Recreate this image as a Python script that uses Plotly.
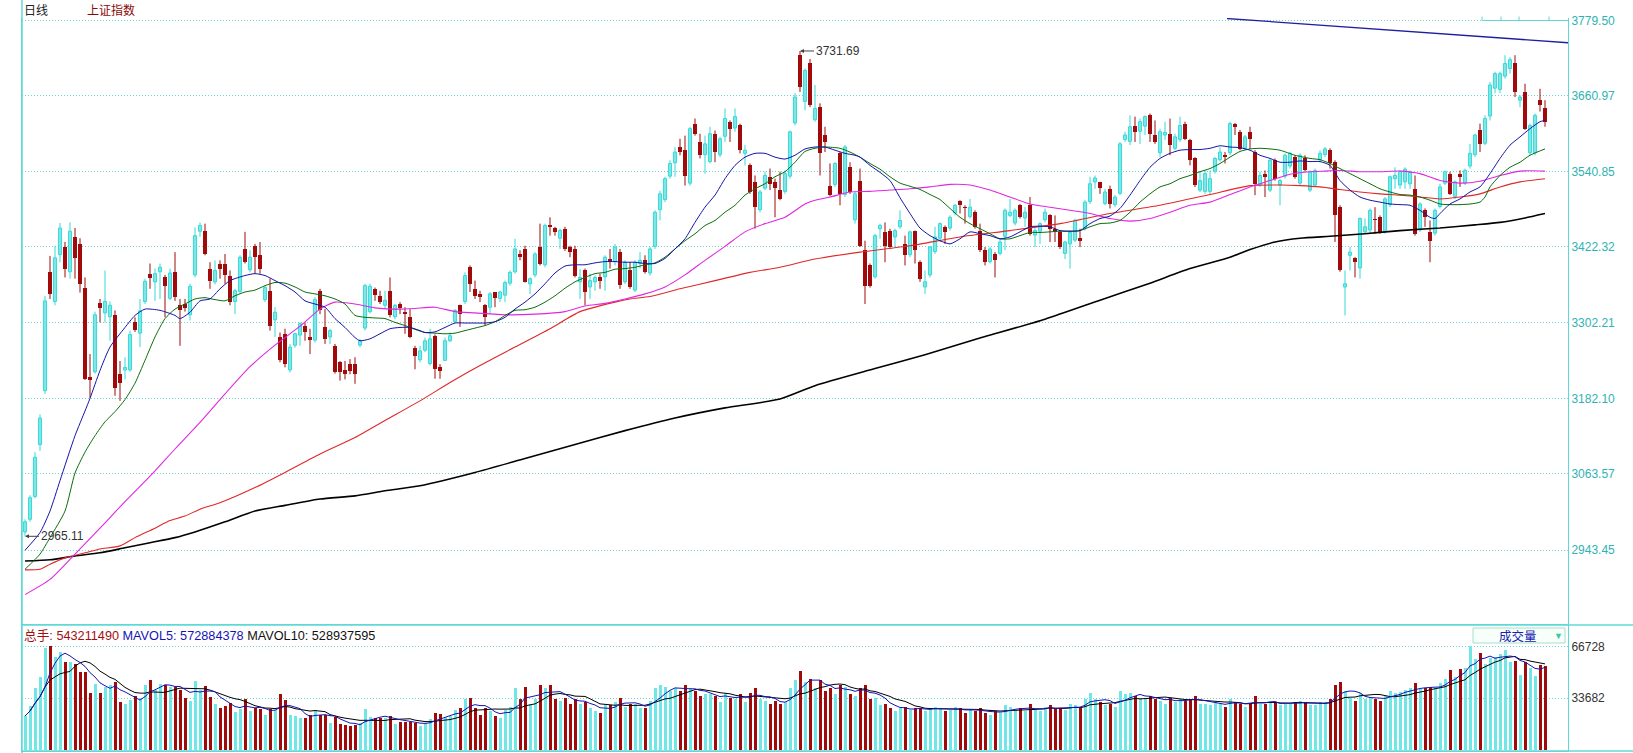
import plotly.graph_objects as go
import pandas as pd

# ---------------- data ----------------
opens = [
2972,2992,3028,3110,3195,3382,3336,3410,3422,3383,
3438,3427,3358,3216,3225,3333,3318,3312,3314,3222,
3228,3228,3303,3286,3336,3380,3367,3383,3374,3341,
3382,3330,3332,3315,3378,3447,3448,3388,3367,3396,
3396,3377,3336,3352,3419,3386,3424,3409,3339,3353,
3307,3280,3285,3228,3267,3283,3298,3280,3275,3353,
3295,3280,3266,3240,3228,3237,3237,3267,3294,3320,
3356,3345,3330,3353,3312,3332,3320,3311,3262,3244,
3259,3238,3282,3233,3243,3274,3304,3330,3336,3390,
3356,3348,3330,3327,3351,3341,3346,3365,3383,3411,
3419,3364,3378,3422,3394,3457,3452,3436,3451,3422,
3419,3367,3385,3359,3367,3374,3375,3403,3399,3414,
3367,3385,3354,3396,3401,3381,3423,3481,3497,3534,
3555,3580,3575,3523,3617,3588,3568,3557,3601,3568,
3597,3620,3610,3615,3570,3551,3525,3481,3515,3533,
3525,3512,3510,3534,3618,3725,3652,3712,3623,3643,
3599,3519,3521,3570,3505,3548,3465,3527,3417,3393,
3375,3451,3446,3448,3438,3454,3427,3410,3448,3398,
3359,3378,3415,3436,3454,3452,3476,3494,3486,3470,
3477,3448,3417,3399,3411,3412,3439,3472,3460,3488,
3468,3488,3441,3447,3465,3472,3451,3446,3412,3427,
3433,3436,3452,3494,3525,3524,3491,3514,3489,3507,
3592,3589,3614,3605,3613,3630,3599,3571,3599,3601,
3578,3592,3617,3591,3562,3512,3510,3510,3542,3560,
3567,3571,3616,3604,3578,3603,3572,3520,3538,3512,
3559,3520,3534,3550,3564,3523,3562,3512,3520,3560,
3568,3575,3556,3485,3359,3409,3404,3389,3446,3449,
3467,3469,3447,3489,3530,3520,3525,3522,3514,3449,
3480,3446,3444,3486,3523,3538,3502,3538,3523,3550,
3568,3607,3586,3629,3673,3671,3692,3704,3712,3654,
3667,3571,3571,3654,3641]

highs = [
2992,3030,3098,3158,3345,3408,3424,3460,3430,3461,
3452,3436,3374,3253,3320,3340,3385,3336,3322,3242,
3248,3290,3311,3340,3372,3396,3388,3396,3378,3388,
3414,3340,3340,3364,3453,3461,3459,3398,3401,3401,
3411,3385,3356,3409,3446,3417,3427,3430,3361,3372,
3327,3287,3293,3269,3287,3303,3303,3293,3343,3356,
3324,3293,3269,3242,3242,3245,3248,3277,3364,3364,
3358,3353,3353,3374,3332,3335,3327,3324,3266,3266,
3279,3293,3284,3237,3279,3287,3324,3331,3382,3393,
3369,3353,3332,3351,3351,3353,3369,3385,3435,3417,
3424,3374,3414,3459,3459,3469,3454,3451,3454,3424,
3424,3387,3388,3380,3377,3380,3409,3419,3427,3419,
3401,3398,3401,3414,3409,3422,3480,3511,3533,3559,
3580,3593,3598,3612,3625,3601,3598,3612,3606,3596,
3641,3622,3641,3617,3583,3554,3535,3512,3541,3546,
3530,3541,3543,3606,3665,3731.69,3704,3719,3678,3649,
3612,3554,3556,3572,3583,3556,3509,3546,3432,3396,
3443,3459,3461,3451,3451,3480,3440,3448,3448,3401,
3385,3424,3454,3461,3456,3472,3490,3496,3488,3498,
3480,3459,3422,3422,3414,3435,3483,3498,3483,3490,
3485,3501,3454,3461,3483,3474,3472,3448,3432,3448,
3467,3451,3496,3533,3535,3525,3514,3519,3504,3588,
3604,3630,3628,3625,3630,3633,3622,3609,3620,3625,
3601,3628,3620,3593,3564,3541,3543,3543,3564,3580,
3572,3620,3618,3607,3599,3612,3575,3541,3543,3562,
3562,3530,3570,3572,3567,3570,3567,3543,3546,3575,
3580,3578,3559,3488,3385,3422,3406,3469,3467,3483,
3485,3472,3501,3535,3548,3543,3548,3543,3535,3493,
3483,3464,3483,3522,3543,3541,3527,3543,3546,3585,
3601,3617,3630,3683,3699,3699,3725,3722,3725,3662,
3680,3617,3633,3672,3654]

lows = [
2965.11,2988,3025,3100,3190,3340,3330,3398,3374,3372,
3372,3350,3212,3184,3222,3303,3303,3274,3187,3179,
3213,3225,3288,3264,3332,3356,3337,3340,3311,3338,
3337,3266,3320,3306,3374,3438,3409,3356,3363,3372,
3364,3330,3316,3348,3396,3382,3380,3380,3335,3290,
3280,3240,3232,3224,3263,3266,3274,3253,3271,3316,
3269,3269,3222,3211,3213,3221,3206,3264,3290,3317,
3337,3332,3324,3311,3308,3316,3285,3278,3229,3240,
3256,3235,3214,3214,3242,3272,3303,3296,3332,3351,
3340,3335,3298,3316,3327,3335,3335,3361,3380,3401,
3366,3348,3374,3393,3390,3440,3440,3419,3416,3406,
3374,3340,3330,3340,3353,3356,3353,3388,3393,3356,
3364,3356,3351,3388,3380,3377,3419,3464,3493,3530,
3533,3567,3519,3519,3598,3562,3538,3554,3556,3564,
3588,3588,3604,3570,3551,3506,3451,3477,3512,3512,
3469,3496,3506,3530,3614,3667,3638,3643,3620,3535,
3572,3502,3517,3488,3501,3506,3459,3422,3332,3358,
3372,3435,3398,3419,3422,3451,3393,3406,3396,3367,
3348,3374,3411,3430,3427,3448,3472,3475,3459,3467,
3451,3414,3393,3396,3374,3409,3417,3469,3456,3467,
3454,3440,3422,3427,3461,3430,3430,3419,3403,3388,
3430,3422,3448,3490,3514,3506,3488,3483,3485,3504,
3588,3583,3588,3585,3599,3588,3585,3564,3591,3567,
3575,3588,3591,3551,3517,3509,3506,3506,3538,3557,
3554,3567,3599,3575,3575,3577,3504,3517,3501,3509,
3527,3488,3530,3546,3530,3520,3541,3509,3517,3556,
3564,3546,3430,3383,3314,3385,3374,3372,3443,3443,
3443,3443,3443,3485,3514,3514,3514,3514,3440,3446,
3454,3398,3440,3483,3520,3504,3498,3517,3520,3546,
3564,3572,3583,3622,3665,3665,3688,3696,3659,3643,
3607,3567,3567,3636,3612]

closes = [
2988,3026,3090,3152,3337,3348,3405,3452,3388,3447,
3404,3364,3214,3212,3315,3325,3336,3330,3200,3208,
3232,3284,3291,3321,3368,3373,3380,3390,3360,3381,
3343,3322,3325,3360,3440,3456,3411,3369,3385,3388,
3378,3335,3353,3406,3398,3406,3406,3388,3358,3298,
3319,3243,3238,3264,3285,3301,3288,3275,3339,3322,
3277,3290,3224,3224,3222,3227,3222,3274,3361,3360,
3346,3335,3338,3314,3330,3325,3316,3280,3250,3258,
3274,3277,3229,3227,3274,3282,3322,3317,3377,3364,
3345,3343,3311,3348,3341,3351,3366,3382,3419,3406,
3367,3372,3411,3396,3456,3454,3446,3448,3419,3414,
3377,3374,3351,3369,3374,3369,3406,3398,3422,3362,
3398,3359,3398,3401,3382,3419,3477,3506,3530,3554,
3572,3572,3535,3609,3601,3567,3585,3601,3572,3593,
3625,3609,3628,3575,3575,3509,3485,3509,3535,3522,
3516,3498,3538,3604,3659,3675,3701,3646,3641,3570,
3588,3504,3554,3506,3580,3509,3506,3424,3361,3361,
3440,3456,3424,3422,3448,3464,3409,3446,3417,3372,
3367,3422,3438,3459,3446,3469,3488,3488,3483,3485,
3454,3417,3398,3419,3401,3430,3480,3477,3480,3469,
3477,3443,3448,3459,3477,3451,3446,3422,3430,3445,
3464,3432,3493,3522,3531,3515,3509,3490,3501,3585,
3599,3612,3604,3620,3628,3601,3588,3604,3603,3583,
3596,3614,3593,3559,3520,3527,3538,3530,3562,3572,
3564,3617,3612,3577,3596,3593,3522,3535,3533,3559,
3530,3527,3567,3570,3533,3567,3543,3541,3543,3570,
3577,3554,3472,3385,3364,3414,3398,3467,3454,3480,
3464,3446,3498,3533,3535,3541,3545,3540,3443,3490,
3469,3432,3480,3517,3541,3506,3525,3533,3543,3570,
3599,3585,3625,3678,3696,3696,3712,3718,3667,3659,
3609,3614,3630,3646,3620]

volumes = [
22100,28500,40300,47400,65700,67200,59900,63100,56900,56900,
55600,50400,50400,36900,42700,36900,41000,42100,44000,31100,
29800,32400,35000,33500,42100,45300,38800,42700,42100,41000,
41000,38800,33900,31700,44600,38800,41400,34500,29800,27400,
28700,30300,24700,26400,32800,25300,27400,26600,22700,26400,
26000,36300,32400,22700,22300,20600,20600,22700,26000,22700,
22700,17400,21600,16700,16300,15700,16300,17400,26400,21600,
20600,20600,20600,22300,16700,18400,18000,18000,17400,15800,
17400,20000,24200,23400,21600,
22000,26000,27000,33000,34000,27000,23000,27000,25000,22000,
21000,26000,28000,40000,33000,41000,30000,33000,42000,40000,
42000,33000,32000,34000,30000,33000,30000,31000,27000,25000,
24000,30000,29000,31000,34000,28000,30000,30000,27000,27000,
32000,40000,42000,41000,38000,40000,38000,42000,40000,38000,
35000,36000,36000,35000,31000,37000,34000,33000,36000,31000,
37000,40000,33000,32000,30000,32000,30000,31000,40000,45000,
51000,44000,46000,40000,45000,38000,40000,36000,42000,41000,
36000,35000,40000,42000,33000,34000,29000,30000,27000,25000,
27000,28000,26000,27000,27000,25000,27000,28000,27000,25000,
26000,28000,27000,24000,26000,25000,27000,24000,23000,25000,
24000,29000,28000,26000,27000,25000,30000,26000,25000,28000,
29000,27000,27000,26000,30000,29000,27000,33000,37000,33000,
31000,29000,30000,28000,38000,36000,37000,35000,34000,33000,
35000,33000,32000,30000,34000,31000,33000,32000,33000,35000,
30000,30000,29000,31000,30000,28000,33000,31000,30000,28000,
30000,35000,30000,30000,31000,31000,29000,30000,30000,31000,
32000,31000,29000,29000,31000,31000,33000,42000,44000,38000,
34000,32000,37000,33000,34000,33000,32000,35000,38000,37000,
37800,38800,39900,43100,39500,39900,41000,39900,43500,45700,
51700,47400,52400,53200,67200,58600,62500,55400,59600,60300,
61800,64600,57100,57500,48500,56700,53200,48000,54900,54321]

# moving-average lines, sampled along the candles (index, value)
ma_blue_x = [0,3,5,7,10,12,13,15,17,20,22,24,27,30,31,33,35,37,39,41,44,46,48,50,52,54,56,58,60,62,64,66,67,69,71,73,75,77,79,80,82,84,86,88,90,92,94,96,98,100,102,104,106,108,110,112,114,116,118,120,122,124,126,128,130,132,134,136,138,140,142,144,146,148,150,152,154,156,158,160,162,164,166,167,169,171,173,175,177,179,181,183,185,187,189,191,193,195,197,199,201,203,205,207,209,211,213,215,217,219,221,223,225,227,229,231,233,235,237,239,241,243,245,247,249,251,253,255,257,259,261,263,265,267,269,271,273,275,277,279,281,282,283,285,287,289,291,293,295,297,299,301,303,304]
ma_blue_y = [2943,2971,3005,3053,3124,3163,3183,3227,3264,3295,3314,3324,3322,3314,3309,3319,3337,3340,3356,3369,3377,3380,3377,3369,3361,3351,3337,3332,3327,3309,3295,3279,3274,3277,3285,3293,3295,3295,3290,3287,3288,3295,3302,3302,3302,3302,3304,3311,3324,3335,3348,3364,3381,3392,3394,3394,3397,3399,3399,3398,3398,3396,3396,3404,3419,3435,3461,3485,3504,3530,3551,3564,3570,3570,3564,3561,3567,3577,3580,3580,3575,3570,3567,3564,3551,3540,3527,3500,3475,3452,3440,3432,3427,3435,3446,3443,3440,3435,3438,3446,3454,3455,3454,3448,3447,3448,3459,3467,3471,3483,3504,3527,3548,3562,3570,3575,3576,3576,3578,3582,3580,3579,3575,3567,3562,3556,3556,3558,3557,3557,3551,3527,3512,3501,3496,3493,3490,3489,3488,3480,3469,3467,3475,3490,3498,3509,3517,3538,3562,3583,3596,3609,3620,3622]

ma_green_x = [0,3,5,8,10,12,14,16,18,20,22,24,26,28,30,32,34,36,38,40,42,44,46,48,50,52,54,56,58,60,62,64,66,68,70,72,74,76,78,80,82,84,86,88,90,92,94,96,98,100,102,104,106,108,110,112,114,116,118,120,122,124,126,128,130,132,134,136,138,140,142,144,146,148,150,152,154,156,158,160,163,165,167,169,171,173,175,177,179,181,183,185,187,189,191,193,195,197,199,201,203,205,207,209,211,213,215,217,219,221,223,225,227,229,231,233,235,237,239,241,243,245,247,249,251,254,257,259,261,263,265,267,269,271,273,275,277,279,281,283,285,287,289,291,292,293,295,297,299,301,304]
ma_green_y = [2913,2937,2963,3005,3065,3098,3124,3146,3162,3181,3207,3243,3280,3309,3324,3332,3340,3342,3339,3337,3345,3351,3354,3361,3366,3365,3359,3351,3348,3345,3340,3332,3314,3311,3310,3309,3303,3298,3292,3287,3286,3285,3286,3290,3294,3298,3304,3314,3322,3323,3327,3335,3345,3357,3367,3374,3380,3382,3387,3388,3390,3394,3397,3406,3419,3432,3443,3456,3464,3477,3488,3504,3514,3522,3533,3541,3556,3573,3578,3580,3578,3572,3564,3554,3545,3533,3523,3518,3513,3505,3497,3483,3469,3459,3451,3443,3435,3435,3440,3445,3445,3446,3447,3447,3448,3454,3459,3460,3464,3477,3493,3506,3517,3522,3530,3535,3541,3546,3554,3564,3573,3577,3578,3577,3575,3567,3562,3560,3554,3546,3538,3530,3522,3514,3509,3505,3504,3501,3496,3490,3489,3489,3490,3493,3501,3517,3535,3548,3556,3567,3577]

ma_magenta_x = [0,5,10,15,20,25,30,35,40,45,50,55,59,62,66,70,75,78,82,86,90,96,102,108,112,116,120,124,128,132,136,140,144,148,152,156,158,161,165,169,173,177,181,185,189,193,197,201,205,209,213,217,221,225,229,233,237,241,245,249,253,257,260,263,267,271,275,279,283,287,291,295,299,304]
ma_magenta_y = [2873,2897,2937,2978,3020,3060,3103,3145,3190,3233,3267,3297,3324,3335,3332,3326,3324,3325,3327,3320,3318,3315,3316,3320,3329,3333,3340,3348,3359,3378,3401,3423,3446,3459,3469,3490,3496,3501,3509,3510,3512,3514,3517,3521,3520,3512,3501,3490,3485,3480,3475,3467,3463,3467,3477,3488,3493,3505,3517,3527,3537,3541,3542,3543,3541,3541,3542,3538,3527,3523,3526,3535,3542,3542]

ma_red_x = [0,3,5,8,12,15,19,22,26,29,32,35,39,46,52,59,66,72,79,85,91,98,105,111,118,121,125,131,138,145,151,158,167,177,187,197,207,217,227,237,245,251,255,259,263,267,271,275,279,283,287,291,295,299,304]
ma_red_y = [2912,2913,2921,2931,2939,2945,2950,2963,2978,2990,2997,3008,3018,3042,3066,3095,3121,3148,3179,3208,3235,3264,3293,3320,3335,3340,3344,3356,3369,3382,3390,3403,3414,3424,3438,3448,3459,3475,3488,3505,3519,3520,3519,3517,3513,3509,3506,3504,3501,3498,3501,3506,3517,3525,3530]

ma_black_x = [0,5,10,15,20,25,30,34,40,46,52,59,66,72,79,90,100,110,120,130,140,151,158,170,180,190,204,215,225,233,241,245,250,255,261,268,275,283,290,295,300,304]
ma_black_y = [2926,2928,2934,2939,2947,2955,2963,2972,2988,3005,3014,3024,3029,3037,3045,3066,3088,3110,3132,3152,3168,3182,3203,3230,3252,3276,3308,3338,3365,3388,3406,3418,3430,3436,3439,3443,3448,3452,3457,3461,3468,3475]

# user-drawn trend line (index, price)
trend_x = [240.4, 308.6]
trend_y = [3783.0, 3744.7]

price_ticks = [3779.50, 3660.97, 3540.85, 3422.32, 3302.21, 3182.10, 3063.57, 2943.45]
vol_ticks = [66728, 33682]

peak_idx, peak_val = 155, 3731.69
low_idx, low_val = 0, 2965.11

# ---------------- styling ----------------
UP_LINE = "#36D8D8"
UP_FILL = "#C4F6F6"
DOWN = "#A00A0A"
VOL_UP = "#70E6E6"
GRID = "#72CFCF"
AXIS = "#5FD8D8"
LABEL = "#2FB3B3"
FONT = "Arial, Liberation Sans, sans-serif"

n = len(closes)
idx = list(range(n))
up = [closes[i] >= opens[i] for i in idx]

fig = go.Figure()

# wicks
for flag, col in ((True, UP_LINE), (False, DOWN)):
    wx, wy = [], []
    for i in idx:
        if up[i] == flag:
            wx += [i, i, None]
            wy += [lows[i], highs[i], None]
    fig.add_trace(go.Scatter(x=wx, y=wy, mode="lines", line=dict(color=col, width=1),
                             hoverinfo="skip", xaxis="x", yaxis="y"))

# bodies
ux = [i for i in idx if up[i]]
dx = [i for i in idx if not up[i]]
fig.add_trace(go.Bar(x=ux, base=[opens[i] for i in ux],
                     y=[max(closes[i] - opens[i], 1.2) for i in ux],
                     width=0.62, marker=dict(color=UP_FILL, line=dict(color=UP_LINE, width=1)),
                     xaxis="x", yaxis="y", hoverinfo="skip"))
fig.add_trace(go.Bar(x=dx, base=[closes[i] for i in dx],
                     y=[max(opens[i] - closes[i], 1.2) for i in dx],
                     width=0.62, marker=dict(color=DOWN, line=dict(width=0)),
                     xaxis="x", yaxis="y", hoverinfo="skip"))

# moving averages
for xs, ys, col, w in ((ma_black_x, ma_black_y, "#000000", 1.6),
                       (ma_red_x, ma_red_y, "#E02828", 1.1),
                       (ma_magenta_x, ma_magenta_y, "#E028E0", 1.1),
                       (ma_green_x, ma_green_y, "#0A6E0A", 1.0),
                       (ma_blue_x, ma_blue_y, "#1414A8", 1.0)):
    fig.add_trace(go.Scatter(x=xs, y=ys, mode="lines",
                             line=dict(color=col, width=w, shape="spline", smoothing=0.6),
                             hoverinfo="skip", xaxis="x", yaxis="y"))

fig.add_trace(go.Scatter(x=trend_x, y=trend_y, mode="lines", line=dict(color="#1E1EA0", width=1.3),
                         hoverinfo="skip", xaxis="x", yaxis="y"))

# volume
fig.add_trace(go.Bar(x=idx, y=volumes, width=0.6,
                     marker=dict(color=[VOL_UP if u else DOWN for u in up], line=dict(width=0)),
                     xaxis="x2", yaxis="y2", hoverinfo="skip"))
vs = pd.Series(volumes, dtype=float)
mav5 = vs.rolling(5, min_periods=1).mean()
mav10 = vs.rolling(10, min_periods=1).mean()
fig.add_trace(go.Scatter(x=idx, y=mav10, mode="lines", line=dict(color="#000000", width=1),
                         xaxis="x2", yaxis="y2", hoverinfo="skip"))
fig.add_trace(go.Scatter(x=idx, y=mav5, mode="lines", line=dict(color="#1414B4", width=1),
                         xaxis="x2", yaxis="y2", hoverinfo="skip"))

# ---------------- layout ----------------
W, H = 1633, 753
ML, MR, MT, MB = 22, 65, 18, 2
PW, PH = W - ML - MR, H - MT - MB


def px(xp):
    return (xp - ML) / PW


def py(yp):
    return (H - MB - yp) / PH


split = py(625)

fig.update_layout(
    template="none",
    width=W, height=H, margin=dict(l=ML, r=MR, t=MT, b=MB, autoexpand=False),
    paper_bgcolor="white", plot_bgcolor="white", showlegend=False,
    barmode="overlay", bargap=0, hovermode=False,
    font=dict(family=FONT, size=12, color="#333333"),
    xaxis=dict(domain=[0, 1], range=[-0.6, 308.6], showticklabels=False, showgrid=False,
               zeroline=False, showline=False, anchor="y", automargin=False, ticks=""),
    xaxis2=dict(domain=[0, 1], range=[-0.6, 308.6], showticklabels=False, showgrid=False,
                zeroline=False, showline=True, linecolor=AXIS, linewidth=1, mirror=True,
                anchor="y2", matches="x", automargin=False, ticks=""),
    yaxis=dict(domain=[split, 1], range=[2825.0, 3783.8], side="right",
               tickvals=price_ticks, ticktext=[f"{v:.2f}" for v in price_ticks],
               tickfont=dict(color=LABEL, size=12, family=FONT), ticks="", ticklen=0,
               showgrid=True, gridcolor=GRID, griddash="1px,2px", gridwidth=1,
               zeroline=False, showline=True, linecolor=AXIS, linewidth=1, mirror=True,
               anchor="x", automargin=False),
    yaxis2=dict(domain=[0, split], range=[-451, 80706], side="right",
                tickvals=vol_ticks, ticktext=[str(v) for v in vol_ticks],
                tickfont=dict(color="#333333", size=12, family=FONT), ticks="", ticklen=0,
                showgrid=True, gridcolor=GRID, griddash="1px,2px", gridwidth=1,
                zeroline=False, showline=True, linecolor=AXIS, linewidth=1, mirror=True,
                anchor="x2", automargin=False),
)

shapes = [
    dict(type="line", xref="paper", yref="paper", x0=0, x1=0, y0=py(753), y1=py(0),
         line=dict(color=AXIS, width=1.5)),
    dict(type="line", xref="paper", yref="paper", x0=0, x1=px(W), y0=split, y1=split,
         line=dict(color=AXIS, width=1.5)),
    dict(type="line", xref="paper", yref="paper", x0=0, x1=px(W), y0=py(751), y1=py(751),
         line=dict(color=AXIS, width=1.5)),
    dict(type="line", xref="paper", yref="paper", x0=px(1482), x1=1, y0=py(20.5), y1=py(20.5),
         line=dict(color=AXIS, width=1)),
    dict(type="rect", xref="paper", yref="paper", x0=px(1473), x1=px(1565), y0=py(643), y1=py(628),
         line=dict(color="#A9DEC8", width=1), fillcolor="#F7FFFB"),
]
for tx in (1482, 1501, 1519, 1549):
    shapes.append(dict(type="line", xref="paper", yref="paper", x0=px(tx), x1=px(tx),
                       y0=py(20.5), y1=py(16.5), line=dict(color=AXIS, width=1)))
fig.update_layout(shapes=shapes)

ann = [
    dict(text="日线", x=px(22), y=py(10), xref="paper", yref="paper", xanchor="left", yanchor="middle",
         showarrow=False, font=dict(size=12, color="#222222", family="Noto Sans CJK SC")),
    dict(text="上证指数", x=px(85), y=py(10), xref="paper", yref="paper", xanchor="left", yanchor="middle",
         showarrow=False, font=dict(size=12, color="#8B0A0A", family="Noto Sans CJK SC")),
    dict(text=('<span style="color:#A01010">总手: 543211490</span> '
               '<span style="color:#1414B4">MAVOL5: 572884378</span> '
               '<span style="color:#111111">MAVOL10: 528937595</span>'),
         x=px(22), y=py(636), xref="paper", yref="paper", xanchor="left", yanchor="middle",
         showarrow=False, font=dict(size=12.7, family="Arial, Noto Sans CJK SC")),
    dict(text="成交量", x=px(1518), y=py(635.5), xref="paper", yref="paper", xanchor="center",
         yanchor="middle", showarrow=False, font=dict(size=12.5, color="#2020B0", family="Noto Sans CJK SC")),
    dict(text="▼", x=px(1558), y=py(635.5), xref="paper", yref="paper", xanchor="center",
         yanchor="middle", showarrow=False, font=dict(size=9, color="#3CC8A0")),
    dict(text=f"{peak_val:.2f}", x=peak_idx, y=peak_val, xref="x", yref="y", ax=14, ay=0,
         xanchor="left", yanchor="middle", showarrow=True, arrowhead=2, arrowsize=0.8,
         arrowwidth=1, arrowcolor="#444444", font=dict(size=12, color="#333333")),
    dict(text=f"{low_val:.2f}", x=low_idx, y=low_val, xref="x", yref="y", ax=14, ay=0,
         xanchor="left", yanchor="middle", showarrow=True, arrowhead=2, arrowsize=0.8,
         arrowwidth=1, arrowcolor="#444444", font=dict(size=12, color="#333333")),
]
fig.update_layout(annotations=ann)

# remove the default page margin so the figure sits at the window's top-left corner
fig.write_html("out.html", config={"displayModeBar": False, "staticPlot": True},
               post_script="document.body.style.margin='0';document.body.style.overflow='hidden';")
